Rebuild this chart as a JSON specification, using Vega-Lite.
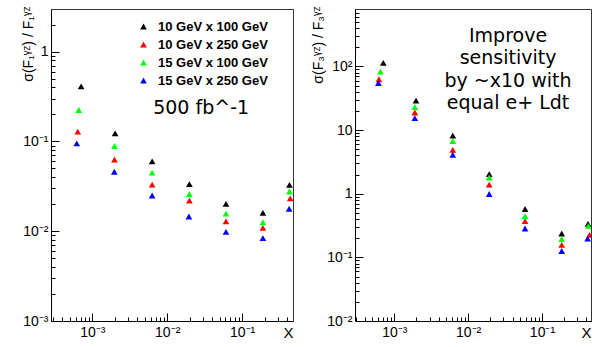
{
  "$schema": "https://vega.github.io/schema/vega-lite/v6.json",
  "autosize": {"type": "pad"},
  "padding": {"left": 20, "top": 5, "right": 0, "bottom": 0},
  "background": "white",
  "bounds": "flush",
  "spacing": 62,
  "config": {
    "view": {"stroke": "#333333", "strokeWidth": 1},
    "axis": {
      "grid": false,
      "domainColor": "#000000",
      "tickColor": "#000000",
      "labelColor": "#000000",
      "titleColor": "#000000",
      "labelFont": "Liberation Sans",
      "labelFontSize": 14,
      "titleFont": "Liberation Sans",
      "titleFontWeight": "normal",
      "labelOverlap": false,
      "labelBound": false,
      "labelFlush": false
    }
  },
  "datasets": {
    "f1": [
      {"x": 0.00071, "y": 0.41, "series": "10 GeV x 100 GeV"},
      {"x": 0.00202, "y": 0.123, "series": "10 GeV x 100 GeV"},
      {"x": 0.0063, "y": 0.060, "series": "10 GeV x 100 GeV"},
      {"x": 0.0198, "y": 0.0335, "series": "10 GeV x 100 GeV"},
      {"x": 0.061, "y": 0.0202, "series": "10 GeV x 100 GeV"},
      {"x": 0.19, "y": 0.016, "series": "10 GeV x 100 GeV"},
      {"x": 0.43, "y": 0.0329, "series": "10 GeV x 100 GeV"},
      {"x": 0.00064, "y": 0.129, "series": "10 GeV x 250 GeV"},
      {"x": 0.00198, "y": 0.063, "series": "10 GeV x 250 GeV"},
      {"x": 0.0063, "y": 0.033, "series": "10 GeV x 250 GeV"},
      {"x": 0.0198, "y": 0.022, "series": "10 GeV x 250 GeV"},
      {"x": 0.061, "y": 0.0129, "series": "10 GeV x 250 GeV"},
      {"x": 0.19, "y": 0.0109, "series": "10 GeV x 250 GeV"},
      {"x": 0.44, "y": 0.0232, "series": "10 GeV x 250 GeV"},
      {"x": 0.00066, "y": 0.224, "series": "15 GeV x 100 GeV"},
      {"x": 0.00198, "y": 0.089, "series": "15 GeV x 100 GeV"},
      {"x": 0.0063, "y": 0.045, "series": "15 GeV x 100 GeV"},
      {"x": 0.0198, "y": 0.0259, "series": "15 GeV x 100 GeV"},
      {"x": 0.061, "y": 0.0157, "series": "15 GeV x 100 GeV"},
      {"x": 0.19, "y": 0.0126, "series": "15 GeV x 100 GeV"},
      {"x": 0.43, "y": 0.0277, "series": "15 GeV x 100 GeV"},
      {"x": 0.00062, "y": 0.095, "series": "15 GeV x 250 GeV"},
      {"x": 0.00197, "y": 0.046, "series": "15 GeV x 250 GeV"},
      {"x": 0.0063, "y": 0.025, "series": "15 GeV x 250 GeV"},
      {"x": 0.0195, "y": 0.0146, "series": "15 GeV x 250 GeV"},
      {"x": 0.061, "y": 0.00985, "series": "15 GeV x 250 GeV"},
      {"x": 0.19, "y": 0.0084, "series": "15 GeV x 250 GeV"},
      {"x": 0.425, "y": 0.0178, "series": "15 GeV x 250 GeV"}
    ],
    "f3": [
      {"x": 0.00071, "y": 114, "series": "10 GeV x 100 GeV"},
      {"x": 0.00197, "y": 29, "series": "10 GeV x 100 GeV"},
      {"x": 0.0062, "y": 8.2, "series": "10 GeV x 100 GeV"},
      {"x": 0.0193, "y": 2.04, "series": "10 GeV x 100 GeV"},
      {"x": 0.059, "y": 0.575, "series": "10 GeV x 100 GeV"},
      {"x": 0.185, "y": 0.237, "series": "10 GeV x 100 GeV"},
      {"x": 0.42, "y": 0.337, "series": "10 GeV x 100 GeV"},
      {"x": 0.00062, "y": 63, "series": "10 GeV x 250 GeV"},
      {"x": 0.0019, "y": 18.9, "series": "10 GeV x 250 GeV"},
      {"x": 0.0062, "y": 4.9, "series": "10 GeV x 250 GeV"},
      {"x": 0.0193, "y": 1.39, "series": "10 GeV x 250 GeV"},
      {"x": 0.059, "y": 0.372, "series": "10 GeV x 250 GeV"},
      {"x": 0.185, "y": 0.157, "series": "10 GeV x 250 GeV"},
      {"x": 0.44, "y": 0.226, "series": "10 GeV x 250 GeV"},
      {"x": 0.00065, "y": 83, "series": "15 GeV x 100 GeV"},
      {"x": 0.0019, "y": 23, "series": "15 GeV x 100 GeV"},
      {"x": 0.0062, "y": 6.7, "series": "15 GeV x 100 GeV"},
      {"x": 0.0193, "y": 1.8, "series": "15 GeV x 100 GeV"},
      {"x": 0.059, "y": 0.446, "series": "15 GeV x 100 GeV"},
      {"x": 0.185, "y": 0.194, "series": "15 GeV x 100 GeV"},
      {"x": 0.425, "y": 0.313, "series": "15 GeV x 100 GeV"},
      {"x": 0.00061, "y": 55, "series": "15 GeV x 250 GeV"},
      {"x": 0.0019, "y": 15.4, "series": "15 GeV x 250 GeV"},
      {"x": 0.0062, "y": 4.1, "series": "15 GeV x 250 GeV"},
      {"x": 0.0193, "y": 0.99, "series": "15 GeV x 250 GeV"},
      {"x": 0.059, "y": 0.284, "series": "15 GeV x 250 GeV"},
      {"x": 0.185, "y": 0.126, "series": "15 GeV x 250 GeV"},
      {"x": 0.415, "y": 0.198, "series": "15 GeV x 250 GeV"}
    ]
  },
  "resolve": {"scale": {"color": "independent"}, "legend": {"color": "independent"}},
  "hconcat": [
    {
      "width": 242,
      "height": 312,
      "layer": [
        {
          "data": {"name": "f1"},
          "mark": {"type": "point", "shape": "triangle-up", "filled": true, "size": 45, "opacity": 1, "clip": true},
          "encoding": {
            "x": {
              "field": "x", "type": "quantitative",
              "scale": {"type": "log", "domain": [0.000281, 0.479], "nice": false},
              "axis": {
                "title": "X",
                "titleFontSize": 15,
                "titleAnchor": "end",
                "titleAlign": "right",
                "titleBaseline": "top",
                "titleY": 4,
                "values": [0.0003, 0.0004, 0.0005, 0.0006, 0.0007, 0.0008, 0.0009, 0.001, 0.002, 0.003, 0.004, 0.005, 0.006, 0.007, 0.008, 0.009, 0.01, 0.02, 0.03, 0.04, 0.05, 0.06, 0.07, 0.08, 0.09, 0.1, 0.2, 0.3, 0.4],
                "labelExpr": "abs(log(datum.value)/LN10 - round(log(datum.value)/LN10)) < 0.001 ? ['10⁻³','10⁻²','10⁻¹','1','10','10²'][round(log(datum.value)/LN10)+3] : ''",
                "tickSize": {"condition": {"test": "abs(log(datum.value)/LN10 - round(log(datum.value)/LN10)) < 0.001", "value": -8}, "value": -4},
                "labelPadding": 12
              }
            },
            "y": {
              "field": "y", "type": "quantitative",
              "scale": {"type": "log", "domain": [0.001, 2.99], "nice": false},
              "axis": {
                "title": "σ(F₁ᵞᶻ) / F₁ᵞᶻ",
                "titleFontSize": 14,
                "titleAnchor": "end",
                "titleAlign": "right",
                "titleBaseline": "alphabetic",
                "titleAngle": -90,
                "titleX": -19,
                "titleY": -3,
                "values": [0.001, 0.002, 0.003, 0.004, 0.005, 0.006, 0.007, 0.008, 0.009, 0.01, 0.02, 0.03, 0.04, 0.05, 0.06, 0.07, 0.08, 0.09, 0.1, 0.2, 0.3, 0.4, 0.5, 0.6, 0.7, 0.8, 0.9, 1, 2],
                "labelExpr": "abs(log(datum.value)/LN10 - round(log(datum.value)/LN10)) < 0.001 ? ['10⁻³','10⁻²','10⁻¹','1','10','10²'][round(log(datum.value)/LN10)+3] : ''",
                "tickSize": {"condition": {"test": "abs(log(datum.value)/LN10 - round(log(datum.value)/LN10)) < 0.001", "value": -8}, "value": -4},
                "labelPadding": 11
              }
            },
            "color": {
              "field": "series", "type": "nominal",
              "scale": {"domain": ["10 GeV x 100 GeV", "10 GeV x 250 GeV", "15 GeV x 100 GeV", "15 GeV x 250 GeV"], "range": ["#000000", "#ff0000", "#00ff00", "#0000ff"]},
              "legend": {
                "orient": "none",
                "legendX": 86,
                "legendY": 11,
                "title": null,
                "padding": 0,
                "labelFont": "Liberation Sans",
                "labelFontWeight": "bold",
                "labelFontSize": 13,
                "labelColor": "#000000",
                "labelOffset": 8,
                "symbolType": "triangle-up",
                "symbolSize": 45,
                "symbolStrokeWidth": 0,
                "rowPadding": 4
              }
            }
          }
        },
        {
          "data": {"values": [{}]},
          "mark": {"type": "text", "align": "left", "baseline": "middle", "font": "DejaVu Sans", "fontSize": 19, "color": "#000000"},
          "encoding": {
            "x": {"datum": 0.0065, "type": "quantitative"},
            "y": {"datum": 0.234, "type": "quantitative"},
            "text": {"value": "500 fb^-1"}
          }
        }
      ]
    },
    {
      "width": 236,
      "height": 312,
      "layer": [
        {
          "data": {"name": "f3"},
          "mark": {"type": "point", "shape": "triangle-up", "filled": true, "size": 45, "opacity": 1, "clip": true},
          "encoding": {
            "x": {
              "field": "x", "type": "quantitative",
              "scale": {"type": "log", "domain": [0.000294, 0.461], "nice": false},
              "axis": {
                "title": "X",
                "titleFontSize": 15,
                "titleAnchor": "end",
                "titleAlign": "right",
                "titleBaseline": "top",
                "titleY": 4,
                "values": [0.0003, 0.0004, 0.0005, 0.0006, 0.0007, 0.0008, 0.0009, 0.001, 0.002, 0.003, 0.004, 0.005, 0.006, 0.007, 0.008, 0.009, 0.01, 0.02, 0.03, 0.04, 0.05, 0.06, 0.07, 0.08, 0.09, 0.1, 0.2, 0.3, 0.4],
                "labelExpr": "abs(log(datum.value)/LN10 - round(log(datum.value)/LN10)) < 0.001 ? ['10⁻³','10⁻²','10⁻¹','1','10','10²'][round(log(datum.value)/LN10)+3] : ''",
                "tickSize": {"condition": {"test": "abs(log(datum.value)/LN10 - round(log(datum.value)/LN10)) < 0.001", "value": -8}, "value": -4},
                "labelPadding": 12
              }
            },
            "y": {
              "field": "y", "type": "quantitative",
              "scale": {"type": "log", "domain": [0.01, 800], "nice": false},
              "axis": {
                "title": "σ(F₃ᵞᶻ) / F₃ᵞᶻ",
                "titleFontSize": 14,
                "titleAnchor": "end",
                "titleAlign": "right",
                "titleBaseline": "alphabetic",
                "titleAngle": -90,
                "titleX": -33,
                "titleY": -3,
                "values": [0.01, 0.02, 0.03, 0.04, 0.05, 0.06, 0.07, 0.08, 0.09, 0.1, 0.2, 0.3, 0.4, 0.5, 0.6, 0.7, 0.8, 0.9, 1, 2, 3, 4, 5, 6, 7, 8, 9, 10, 20, 30, 40, 50, 60, 70, 80, 90, 100, 200, 300, 400, 500, 600, 700],
                "labelExpr": "abs(log(datum.value)/LN10 - round(log(datum.value)/LN10)) < 0.001 ? ['10⁻³','10⁻²','10⁻¹','1','10','10²'][round(log(datum.value)/LN10)+3] : ''",
                "tickSize": {"condition": {"test": "abs(log(datum.value)/LN10 - round(log(datum.value)/LN10)) < 0.001", "value": -8}, "value": -4},
                "labelPadding": 11
              }
            },
            "color": {
              "field": "series", "type": "nominal",
              "scale": {"domain": ["10 GeV x 100 GeV", "10 GeV x 250 GeV", "15 GeV x 100 GeV", "15 GeV x 250 GeV"], "range": ["#000000", "#ff0000", "#00ff00", "#0000ff"]},
              "legend": null
            }
          }
        },
        {
          "data": {"values": [{}]},
          "mark": {"type": "text", "align": "center", "baseline": "middle", "font": "DejaVu Sans", "fontSize": 19, "lineHeight": 22.3, "color": "#000000"},
          "encoding": {
            "x": {"datum": 0.0347, "type": "quantitative"},
            "y": {"datum": 300, "type": "quantitative"},
            "text": {"value": ["Improve", "sensitivity", "by ~x10 with", "equal e+ Ldt"]}
          }
        }
      ]
    }
  ]
}
